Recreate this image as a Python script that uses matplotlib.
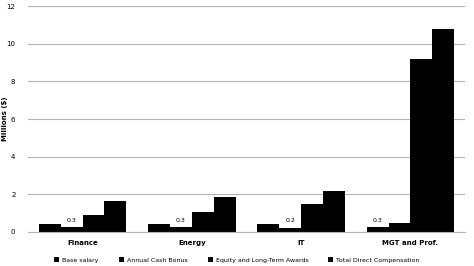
# Median pay components by industry, grouped bar chart

import numpy as np
import matplotlib.pyplot as plt

industries = ["Finance", "Energy", "IT", "MGT and Prof."]
series_names = ["Base salary", "Annual Cash Bonus",
                "Equity and Long-Term Awards", "Total Direct Compensation"]
base_salary = [0.43, 0.43, 0.41, 0.28]
cash_bonus = [0.24, 0.25, 0.23, 0.46]
equity_awards = [0.89, 1.08, 1.47, 9.18]
total_direct = [1.63, 1.85, 2.16, 10.76]

# small labels over the lowest bar in each group
note_labels = ["0.3", "0.3", "0.2", "0.3"]
note_series = [1, 1, 1, 0]

values = [base_salary, cash_bonus, equity_awards, total_direct]

fig = plt.figure(figsize=(4.74, 2.66), dpi=100)
ax = fig.add_axes([0.059, 0.128, 0.922, 0.849])

x = np.arange(len(industries))
width = 0.2
for i, (name, vals) in enumerate(zip(series_names, values)):
    ax.bar(x + (i - 1.5) * width, vals, width, color="black", label=name, zorder=2)

for j, (lab, s) in enumerate(zip(note_labels, note_series)):
    ax.annotate(lab, (x[j] + (s - 1.5) * width, values[s][j]),
                xytext=(0, 3), textcoords="offset points",
                ha="center", va="bottom", fontsize=4.5)

ax.set_ylim(0, 12)
ax.set_xlim(-0.5, len(industries) - 0.5)
ax.set_yticks(range(0, 13, 2))
ax.yaxis.grid(True, color="#b4b4b4", linewidth=0.8, zorder=0)
ax.set_xticks(x)
ax.set_xticklabels(industries, fontsize=5, fontweight="bold")
ax.tick_params(axis="y", labelsize=5, length=0, pad=9)
ax.tick_params(axis="x", length=0, pad=6)
for side in ["top", "right", "left"]:
    ax.spines[side].set_visible(False)
ax.spines["bottom"].set_color("#b4b4b4")
ax.set_ylabel("Millions ($)", fontsize=5, fontweight="bold")
ax.yaxis.set_label_coords(-0.046, 0.5)

fig.legend(loc="lower center", bbox_to_anchor=(0.5, -0.01), ncol=4,
           fontsize=4.5, frameon=False, handlelength=0.8, handleheight=0.8,
           columnspacing=3.2, handletextpad=0.5)

fig.savefig("out.png", dpi=100)
